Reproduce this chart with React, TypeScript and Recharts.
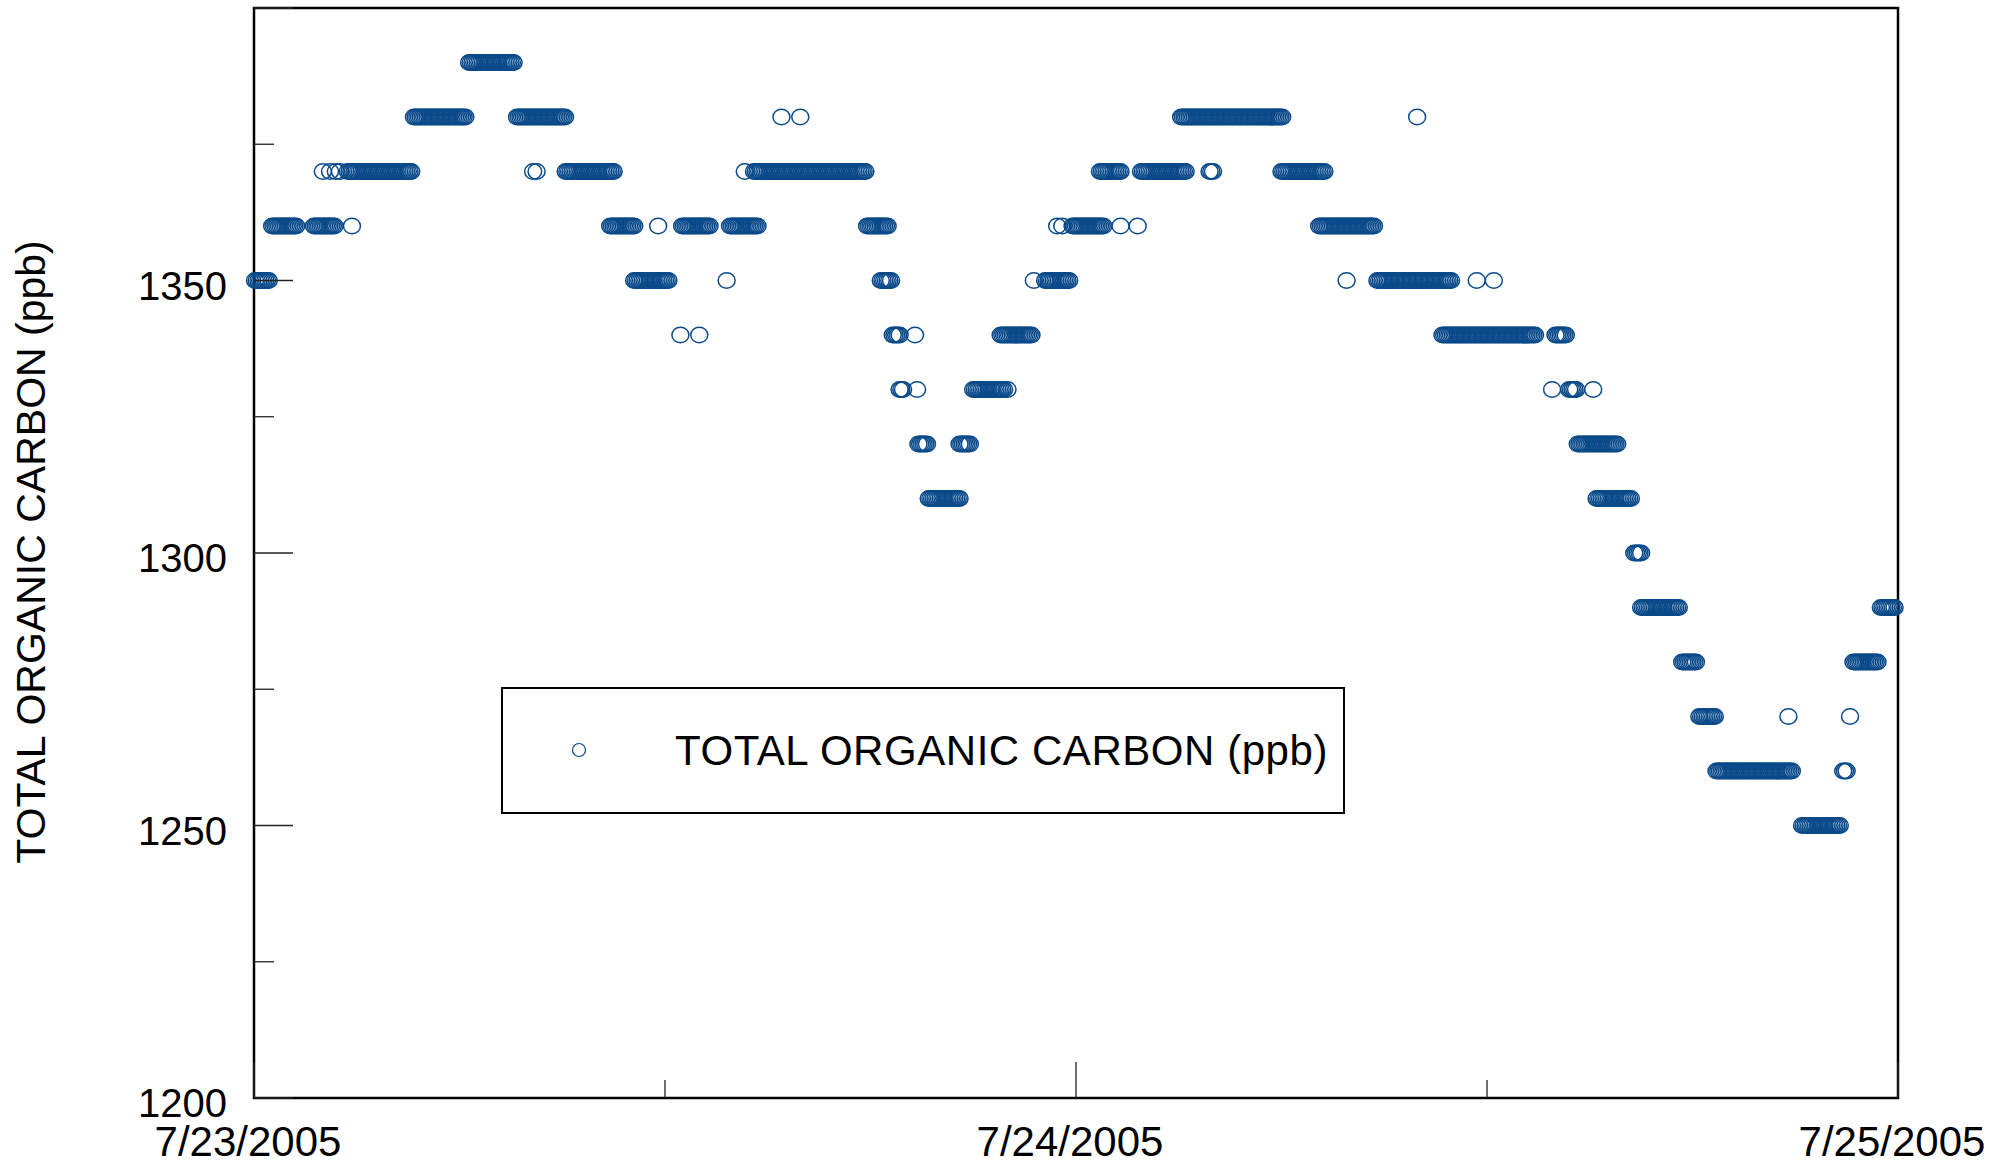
import React from 'react';
import { ScatterChart, Scatter, XAxis, YAxis, ReferenceArea, Legend } from 'recharts';

const FONT = '"Liberation Sans", Arial, sans-serif';
const BLUE = '#0a4a8a';
const SERIES_NAME = 'TOTAL ORGANIC CARBON (ppb)';

// x is hours since 7/23/2005 00:00
const dayLabels = ['7/23/2005', '7/24/2005', '7/25/2005'];
const xTicks = [0, 12, 24, 36, 48];
const yTicks = [1200, 1225, 1250, 1275, 1300, 1325, 1350, 1375, 1400];
const yLabelled = [1200, 1250, 1300, 1350];

// runs of readings at each level, [startHour, endHour] (single reading = [hour])
const toc1390 = [[6.28, 7.59]];
const toc1380 = [[4.67, 6.19], [7.68, 9.08], [15.4], [15.95], [27.07, 30.04], [33.96]];
const toc1370 = [[2.01], [2.22], [2.39], [2.51], [2.74, 4.61], [8.15], [8.25], [9.1, 10.5], [14.33], [14.6, 17.85],
  [24.7, 25.3], [25.9, 27.2], [27.9, 28.0], [30.0, 31.25]];
const toc1360 = [[0.53, 1.26], [1.75, 2.37], [2.86], [10.4, 11.1], [11.8], [12.5, 13.3], [13.9, 14.7], [17.9, 18.5],
  [23.45], [23.6], [23.9, 24.8], [25.3], [25.8], [31.1, 32.7]];
const toc1350 = [[0.03, 0.47], [11.1, 12.1], [13.8], [18.3, 18.6], [22.77], [23.1, 23.8], [31.9], [32.8, 34.95], [35.7], [36.2]];
const toc1340 = [[12.45], [13.0], [18.65, 18.85], [19.3], [21.8, 22.7], [34.7, 37.4], [38.0, 38.3]];
const toc1330 = [[18.85, 18.95], [19.36], [21.0, 21.9], [22.0], [37.9], [38.4, 38.6], [39.1]];
const toc1320 = [[19.4, 19.65], [20.6, 20.9], [38.65, 39.8]];
const toc1310 = [[19.7, 20.6], [39.2, 40.2]];
const toc1300 = [[40.3, 40.5]];
const toc1290 = [[40.5, 41.6], [47.5, 47.9]];
const toc1280 = [[41.7, 42.1], [46.7, 47.4]];
const toc1270 = [[42.2, 42.65], [44.8], [46.6]];
const toc1260 = [[42.7, 44.9], [46.4, 46.5]];
const toc1250 = [[45.2, 46.3]];

// logger reads roughly every 3 minutes inside a run
const READ_STEP = 0.05;

const levels: [number, number[][]][] = [
  [1390, toc1390], [1380, toc1380], [1370, toc1370], [1360, toc1360], [1350, toc1350],
  [1340, toc1340], [1330, toc1330], [1320, toc1320], [1310, toc1310], [1300, toc1300],
  [1290, toc1290], [1280, toc1280], [1270, toc1270], [1260, toc1260], [1250, toc1250],
];

const data: { t: number; toc: number }[] = [];
levels.forEach(([toc, runs]) => {
  runs.forEach((r) => {
    const start = r[0];
    const end = r.length > 1 ? r[1] : r[0];
    for (let t = start; t <= end + 1e-9; t += READ_STEP) data.push({ t, toc });
  });
});

const XTick = (props: any) => {
  const { x, y, payload } = props;
  const v = payload.value;
  const major = v % 24 === 0;
  return (
    <g>
      <line x1={x} y1={y} x2={x} y2={y - (major ? 36 : 18)} stroke="#222" strokeWidth={1.3} />
      {major && (
        <text x={x - 6} y={y + 58} textAnchor="middle" fontSize={42} fontFamily={FONT} fill="#000">
          {dayLabels[v / 24]}
        </text>
      )}
    </g>
  );
};

const YTick = (props: any) => {
  const { x, y, payload } = props;
  const v = payload.value;
  const major = v % 50 === 0;
  return (
    <g>
      <line x1={x} y1={y} x2={x + (major ? 39 : 20)} y2={y} stroke="#222" strokeWidth={1.3} />
      {yLabelled.includes(v) && (
        <text x={x - 27} y={y + 19} textAnchor="end" fontSize={40} fontFamily={FONT} fill="#000">
          {v}
        </text>
      )}
    </g>
  );
};

const Ring = (props: any) => (
  <ellipse cx={props.cx} cy={props.cy} rx={8.5} ry={7.7} fill="none" stroke={BLUE} strokeWidth={1.5} />
);

const LegendBox = () => (
  <div style={{ boxSizing: 'border-box', width: 844, height: 127, border: '2px solid #000', position: 'relative', background: '#fff' }}>
    <svg style={{ position: 'absolute', left: 68, top: 53 }} width={16} height={16}>
      <circle cx={8} cy={8} r={6.5} fill="none" stroke={BLUE} strokeWidth={1.2} />
    </svg>
    <div style={{ position: 'absolute', left: 172, top: 0, bottom: 0, display: 'flex', alignItems: 'center',
      fontSize: 42, letterSpacing: 0.55, fontFamily: FONT, color: '#000', whiteSpace: 'nowrap' }}>
      {SERIES_NAME}
    </div>
  </div>
);

export default function App() {
  return (
    <div style={{ position: 'absolute', left: 0, top: 0, background: '#fff' }}>
      <ScatterChart width={2009} height={1162} margin={{ top: 8, right: 111, left: 0, bottom: 0 }}>
        <XAxis
          type="number"
          dataKey="t"
          domain={[0, 48]}
          ticks={xTicks}
          interval={0}
          height={64}
          axisLine={false}
          tickLine={false}
          tickSize={0}
          tickMargin={0}
          tick={<XTick />}
        />
        <YAxis
          type="number"
          dataKey="toc"
          domain={[1200, 1400]}
          ticks={yTicks}
          interval={0}
          width={254}
          axisLine={false}
          tickLine={false}
          tickSize={0}
          tickMargin={0}
          tick={<YTick />}
          label={{
            content: () => (
              <text x={31} y={552} transform="rotate(-90 31 552)" textAnchor="middle" dominantBaseline="central"
                fontSize={41} fontFamily={FONT} fill="#000">
                {SERIES_NAME}
              </text>
            ),
          }}
        />
        <ReferenceArea x1={0} x2={48} y1={1200} y2={1400} fill="none" stroke="#000" strokeWidth={2.5} ifOverflow="visible" />
        <Scatter name={SERIES_NAME} data={data} shape={<Ring />} isAnimationActive={false} />
        <Legend
          layout="horizontal"
          verticalAlign="middle"
          align="center"
          content={<LegendBox />}
          wrapperStyle={{ left: 501, top: 687, width: 844, height: 127 }}
        />
      </ScatterChart>
    </div>
  );
}
